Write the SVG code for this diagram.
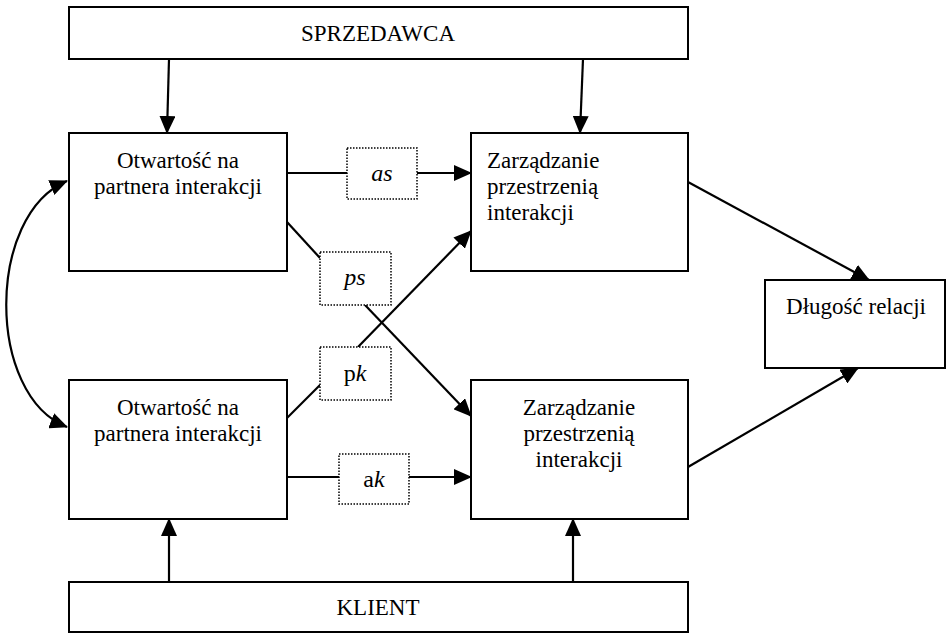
<svg xmlns="http://www.w3.org/2000/svg" width="946" height="634" viewBox="0 0 946 634">
<style>
.box{fill:#fff;stroke:#000;stroke-width:2}
.lbl{fill:#fff;stroke:#000;stroke-width:1.5;stroke-dasharray:1.5 1.5}
.t{font-family:"Liberation Serif","Times New Roman",serif;font-size:23px;fill:#000}
.l{font-size:24px}
.c{text-anchor:middle}
.ln{fill:none;stroke:#000;stroke-width:2.2}
.ar{marker-end:url(#ah)}
</style>
<defs>
<marker id="ah" markerUnits="userSpaceOnUse" markerWidth="18" markerHeight="16" viewBox="0 0 18 16" refX="17" refY="8" orient="auto-start-reverse">
<path d="M0,0 L18,8 L0,16 z" fill="#000"/>
</marker>
</defs>
<g id="sprzedawca"><rect class="box" x="69" y="7" width="619" height="52"/><text class="t c" x="378" y="41">SPRZEDAWCA</text></g>
<g id="otwartosc-s"><rect class="box" x="69" y="133" width="218" height="138"/><text class="t c" x="178" y="168">Otwartość na</text><text class="t c" x="178" y="194">partnera interakcji</text></g>
<g id="zarzadzanie-s"><rect class="box" x="471" y="133" width="217" height="138"/><text class="t" x="487" y="168">Zarządzanie</text><text class="t" x="487" y="194">przestrzenią</text><text class="t" x="487" y="220">interakcji</text></g>
<g id="dlugosc"><rect class="box" x="765" y="280" width="180" height="88"/><text class="t c" x="856" y="314">Długość relacji</text></g>
<g id="otwartosc-k"><rect class="box" x="69" y="380" width="218" height="139"/><text class="t c" x="178" y="415">Otwartość na</text><text class="t c" x="178" y="441">partnera interakcji</text></g>
<g id="zarzadzanie-k"><rect class="box" x="471" y="380" width="217" height="139"/><text class="t c" x="579" y="415">Zarządzanie</text><text class="t c" x="579" y="441">przestrzenią</text><text class="t c" x="579" y="467">interakcji</text></g>
<g id="klient"><rect class="box" x="69" y="582" width="619" height="50"/><text class="t c" x="378" y="615">KLIENT</text></g>
<g id="connectors">
<line class="ln ar" x1="169" y1="59" x2="167" y2="133"/>
<line class="ln ar" x1="583" y1="59" x2="580" y2="133"/>
<line class="ln ar" x1="169" y1="582" x2="169" y2="519"/>
<line class="ln ar" x1="573" y1="582" x2="573" y2="519"/>
<line class="ln" x1="287" y1="173" x2="347" y2="173"/>
<line class="ln ar" x1="417" y1="173" x2="471" y2="173"/>
<line class="ln" x1="287" y1="477" x2="339" y2="477"/>
<line class="ln ar" x1="409" y1="477" x2="471" y2="477"/>
<line class="ln" x1="287" y1="222" x2="320" y2="258"/>
<line class="ln ar" x1="365" y1="305" x2="471" y2="416"/>
<line class="ln" x1="287" y1="418" x2="320" y2="385"/>
<line class="ln ar" x1="358" y1="347" x2="471" y2="231"/>
<line class="ln ar" x1="688" y1="182" x2="869" y2="280"/>
<line class="ln ar" x1="688" y1="467" x2="858" y2="368"/>
<path class="ln" d="M67,181 C-14,215 -14,395 67,427" marker-start="url(#ah)" marker-end="url(#ah)"/>
</g>
<g id="label-as"><rect class="lbl" x="347" y="148" width="70" height="51"/><text class="t l c" x="382" y="181" font-style="italic">as</text></g>
<g id="label-ps"><rect class="lbl" x="320" y="252" width="71" height="53"/><text class="t l c" x="355" y="285" font-style="italic">ps</text></g>
<g id="label-pk"><rect class="lbl" x="320" y="347" width="71" height="53"/><text class="t l c" x="355" y="381">p<tspan font-style="italic">k</tspan></text></g>
<g id="label-ak"><rect class="lbl" x="339" y="454" width="70" height="50"/><text class="t l c" x="374" y="487">a<tspan font-style="italic">k</tspan></text></g>
</svg>
